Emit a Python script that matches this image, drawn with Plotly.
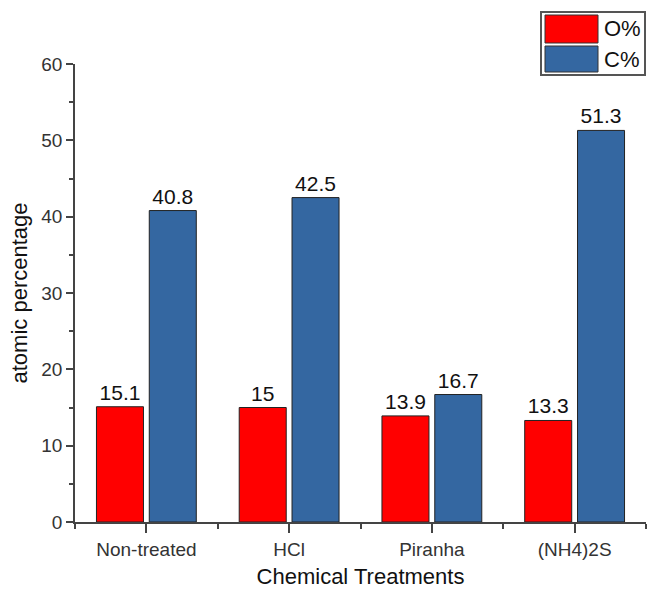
import plotly.graph_objects as go

categories = ["Non-treated", "HCl", "Piranha", "(NH4)2S"]
o_percent = [15.1, 15.0, 13.9, 13.3]
c_percent = [40.8, 42.5, 16.7, 51.3]
y_ticks = [0, 10, 20, 30, 40, 50, 60]
series_names = ["O%", "C%"]

RED = "#FF0000"
BLUE = "#3467A1"
FONT = "Arial, Liberation Sans, sans-serif"

x_pos = list(range(len(categories)))

fig = go.Figure()
for name, vals, col in [(series_names[0], o_percent, RED), (series_names[1], c_percent, BLUE)]:
    fig.add_trace(go.Bar(
        x=x_pos, y=vals, name=name,
        marker=dict(color=col, line=dict(color="#222222", width=1)),
        text=[f"{v:g}" for v in vals],
        textposition="outside",
        textfont=dict(size=21, color="#111111", family=FONT),
        cliponaxis=False,
        showlegend=False,
    ))

W, H = 647, 589
L, R, T, B = 75, 1, 64, 67
pw = W - L - R
ph = H - T - B

def px(x):
    return (x - L) / pw

def py(y):
    return (H - B - y) / ph

shapes = [
    dict(type="rect", xref="paper", yref="paper",
         x0=px(541), x1=px(645), y0=py(75), y1=py(12),
         line=dict(color="#555555", width=2), fillcolor="white", layer="above"),
    dict(type="rect", xref="paper", yref="paper",
         x0=px(545), x1=px(598), y0=py(43), y1=py(15),
         line=dict(color="#333333", width=1), fillcolor=RED, layer="above"),
    dict(type="rect", xref="paper", yref="paper",
         x0=px(545), x1=px(598), y0=py(72), y1=py(46),
         line=dict(color="#333333", width=1), fillcolor=BLUE, layer="above"),
]
annotations = [
    dict(xref="paper", yref="paper", x=px(602), y=py(29), text=series_names[0],
         showarrow=False, xanchor="left", yanchor="middle",
         font=dict(size=22, color="#111111", family=FONT)),
    dict(xref="paper", yref="paper", x=px(602), y=py(59), text=series_names[1],
         showarrow=False, xanchor="left", yanchor="middle",
         font=dict(size=22, color="#111111", family=FONT)),
]

fig.update_layout(
    width=W, height=H,
    margin=dict(l=L, r=R, t=T, b=B, pad=0, autoexpand=False),
    paper_bgcolor="white", plot_bgcolor="white",
    font=dict(family=FONT, color="#222222"),
    barmode="group", bargap=0.26, bargroupgap=0.11,
    shapes=shapes, annotations=annotations,
    xaxis=dict(
        range=[-0.5, 3.5], automargin=False,
        tickvals=x_pos, ticktext=categories,
        ticks="outside", ticklen=9, tickwidth=1.5, tickcolor="#444444",
        minor=dict(tick0=0.5, dtick=1, ticks="outside", ticklen=5, tickwidth=1.5, tickcolor="#444444"),
        showline=True, linecolor="#444444", linewidth=1.5,
        showgrid=False, zeroline=False,
        tickfont=dict(size=19, color="#333333"),
        title=dict(text="Chemical Treatments", font=dict(size=22, color="#111111"), standoff=12),
    ),
    yaxis=dict(
        range=[0, 60], automargin=False,
        tickvals=y_ticks,
        ticks="outside", ticklen=7, tickwidth=1.5, tickcolor="#444444",
        minor=dict(dtick=5, ticks="outside", ticklen=4, tickwidth=1.5, tickcolor="#444444"),
        showline=True, linecolor="#444444", linewidth=1.5,
        showgrid=False, zeroline=False,
        tickfont=dict(size=19, color="#333333"),
        title=dict(text="atomic percentage", font=dict(size=22, color="#111111"), standoff=8),
    ),
)

fig.write_html(
    "out.html",
    config={"displayModeBar": False},
    post_script="document.body.style.margin='0';document.body.style.padding='0';document.body.style.overflow='hidden';",
)
